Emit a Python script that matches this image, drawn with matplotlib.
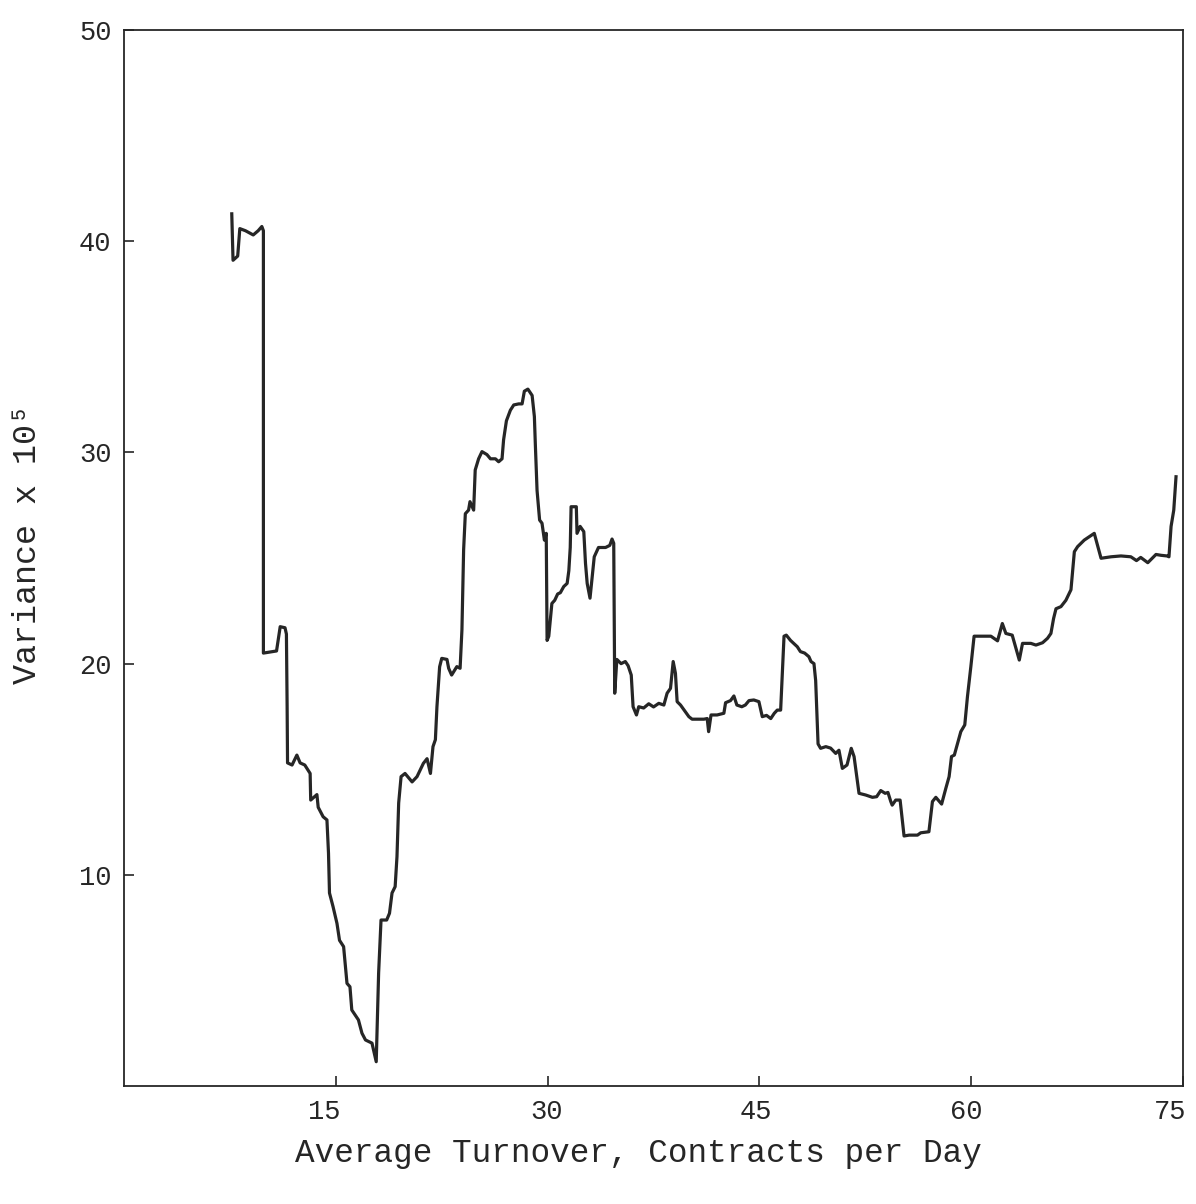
import matplotlib
matplotlib.use("Agg")
import matplotlib.pyplot as plt
from matplotlib.transforms import ScaledTranslation

# average turnover (contracts per day) and variance (x 1e5)
turnover = [
    7.63, 7.72, 8.05, 8.2, 8.6, 9.15, 9.5, 9.76, 9.87, 9.87, 10.8, 11.06, 11.4, 11.5,
    11.55, 11.58, 11.9, 12.24, 12.47, 12.8, 13.18, 13.22, 13.66, 13.75, 14.1, 14.37,
    14.48, 14.55, 14.8, 15.08, 15.26, 15.55, 15.79, 16.0, 16.13, 16.6, 16.85, 17.1,
    17.56, 17.86, 18.03, 18.2, 18.6, 18.8, 18.98, 19.2, 19.33, 19.45, 19.62, 19.9,
    20.4, 20.75, 21.2, 21.46, 21.7, 21.88, 22.05, 22.16, 22.35, 22.5, 22.87, 22.99,
    23.2, 23.57, 23.8, 23.93, 24.05, 24.17, 24.4, 24.5, 24.76, 24.87, 25.11, 25.35,
    25.7, 25.95, 26.3, 26.53, 26.77, 26.88, 27.08, 27.36, 27.6, 27.95, 28.19, 28.35,
    28.6, 28.9, 29.06, 29.13, 29.25, 29.43, 29.6, 29.77, 29.9, 29.96, 30.08, 30.3,
    30.5, 30.71, 30.9, 31.14, 31.38, 31.5, 31.6, 31.66, 32.03, 32.08, 32.3, 32.56,
    32.68, 32.8, 33.0, 33.2, 33.3, 33.6, 34.1, 34.4, 34.56, 34.68, 34.75, 34.9,
    35.2, 35.5, 35.7, 35.92, 36.05, 36.29, 36.45, 36.8, 37.16, 37.5, 37.87, 38.23,
    38.46, 38.7, 38.89, 39.05, 39.17, 39.41, 40.0, 40.23, 41.06, 41.3, 41.4, 41.57,
    42.0, 42.48, 42.6, 42.95, 43.19, 43.4, 43.75, 44.0, 44.26, 44.6, 44.96, 45.2,
    45.5, 45.8, 46.05, 46.26, 46.5, 46.74, 46.9, 47.2, 47.68, 47.9, 48.2, 48.5,
    48.65, 48.86, 48.98, 49.15, 49.33, 49.7, 50.04, 50.4, 50.63, 50.87, 51.2, 51.5,
    51.7, 52.05, 52.52, 53.0, 53.3, 53.59, 53.9, 54.1, 54.3, 54.4, 54.65, 54.96,
    55.24, 55.6, 56.19, 56.42, 57.0, 57.25, 57.49, 57.9, 58.2, 58.43, 58.6, 58.8,
    59.03, 59.26, 59.54, 59.73, 59.97, 60.2, 61.39, 61.86, 62.2, 62.45, 62.9, 63.4,
    63.63, 64.22, 64.58, 65.05, 65.4, 65.64, 65.83, 66.0, 66.35, 66.7, 67.06, 67.3,
    67.53, 68.0, 68.71, 69.19, 69.9, 70.6, 71.3, 71.7, 72.0, 72.5, 73.08, 73.44,
    73.86, 74.0, 74.15, 74.34, 74.5,
]
variance = [
    41.3, 39.1, 39.3, 40.6, 40.5, 40.3, 40.5, 40.7, 40.5, 20.5, 20.6, 21.75, 21.7, 21.4,
    18.0, 15.3, 15.2, 15.67, 15.3, 15.2, 14.8, 13.54, 13.8, 13.2, 12.75, 12.6,
    11.03, 9.14, 8.5, 7.7, 6.9, 6.6, 4.86, 4.7, 3.6, 3.13, 2.5, 2.18,
    2.03, 1.15, 5.35, 7.86, 7.86, 8.18, 9.14, 9.44, 10.86, 13.4, 14.65, 14.8,
    14.4, 14.65, 15.28, 15.5, 14.8, 16.07, 16.4, 17.96, 19.85, 20.25, 20.2, 19.78,
    19.46, 19.86, 19.78, 21.6, 25.4, 27.1, 27.27, 27.67, 27.27, 29.17, 29.7, 30.04,
    29.9, 29.7, 29.7, 29.56, 29.7, 30.6, 31.5, 32.0, 32.25, 32.3, 32.3, 32.9,
    33.0, 32.7, 31.7, 30.35, 28.2, 26.8, 26.65, 25.85, 26.17, 21.1, 21.3, 22.85,
    23.0, 23.3, 23.36, 23.65, 23.8, 24.4, 25.5, 27.43, 27.43, 26.17, 26.5, 26.25,
    24.75, 23.8, 23.1, 24.4, 25.06, 25.5, 25.5, 25.6, 25.9, 25.7, 18.6, 20.2,
    20.0, 20.1, 19.9, 19.46, 17.96, 17.57, 17.96, 17.9, 18.1, 17.95, 18.12, 18.04,
    18.6, 18.83, 20.1, 19.54, 18.2, 18.04, 17.49, 17.37, 17.37, 17.4, 16.78, 17.57,
    17.57, 17.65, 18.15, 18.25, 18.47, 18.04, 17.96, 18.04, 18.25, 18.28, 18.2, 17.49,
    17.55, 17.4, 17.65, 17.8, 17.8, 21.3, 21.35, 21.1, 20.8, 20.57, 20.5, 20.33,
    20.1, 20.0, 19.2, 16.2, 15.99, 16.07, 16.0, 15.75, 15.9, 15.04, 15.2, 15.99,
    15.6, 13.86, 13.78, 13.67, 13.7, 13.99, 13.86, 13.9, 13.47, 13.3, 13.54, 13.54,
    11.84, 11.88, 11.88, 11.99, 12.04, 13.47, 13.67, 13.35, 14.1, 14.65, 15.6, 15.67,
    16.23, 16.78, 17.1, 18.44, 19.86, 21.3, 21.3, 21.08, 21.9, 21.43, 21.35, 20.17,
    20.96, 20.96, 20.88, 20.99, 21.2, 21.43, 22.14, 22.6, 22.7, 23.0, 23.5, 25.3,
    25.54, 25.85, 26.17, 24.99, 25.06, 25.1, 25.06, 24.88, 25.03, 24.78, 25.17, 25.13,
    25.1, 25.06, 26.5, 27.27, 28.85,
]

x_ticks = [15, 30, 45, 60, 75]
y_ticks = [10, 20, 30, 40, 50]

plt.rcParams["font.family"] = ["Liberation Mono", "DejaVu Sans Mono"]
ink = "#262626"

fig = plt.figure(figsize=(11.96, 12.04), dpi=100)
ax = fig.add_axes([0.1037, 0.098, 0.8855, 0.877])

ax.plot(turnover, variance, color=ink, linewidth=2.3, solid_joinstyle="round")

ax.set_xlim(0, 75)
ax.set_ylim(0, 50)
ax.set_xticks(x_ticks)
ax.set_yticks(y_ticks)
ax.tick_params(direction="in", length=7, width=1.2, colors=ink, labelsize=19.5)
ax.tick_params(axis="x", pad=9)
ax.tick_params(axis="y", pad=9)
for s in ax.spines.values():
    s.set_color(ink)
    s.set_linewidth(1.3)

# typed labels sit a little left of their ticks; keep "75" inside the figure
shifts = [-12, -1, -4, -5, -13]
for lab, dx in zip(ax.get_xticklabels(), shifts):
    lab.set_transform(lab.get_transform() + ScaledTranslation(dx / 100, 0, fig.dpi_scale_trans))

ax.set_xlabel("Average Turnover, Contracts per Day", fontsize=23.5, color=ink, va="center")
ax.xaxis.set_label_coords(0.486, -0.064)
ax.set_ylabel("Variance x 10⁵", fontsize=24, color=ink, va="center", ha="center")
ax.yaxis.set_label_coords(-0.091, 0.513)

fig.savefig("out.png", dpi=100)
